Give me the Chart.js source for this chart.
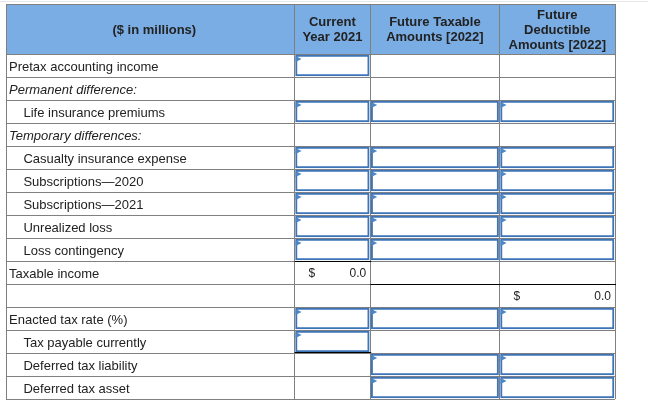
<!DOCTYPE html>
<html>
<head>
<meta charset="utf-8">
<script src="https://cdn.jsdelivr.net/npm/chart.js@4.4.1/dist/chart.umd.min.js"></script>
<style>
	html, body { margin: 0; padding: 0; background: #fff; }
	#wrap { width: 648px; height: 404px; }
</style>
</head>
<body>
<div id="wrap"><canvas id="worksheet"></canvas></div>
<script>
// Rows of the worksheet
var ROW_LABELS = [
	'Pretax accounting income',
	'Permanent difference:',
	'Life insurance premiums',
	'Temporary differences:',
	'Casualty insurance expense',
	'Subscriptions\u20142020',
	'Subscriptions\u20142021',
	'Unrealized loss',
	'Loss contingency',
	'Taxable income',
	'',
	'Enacted tax rate (%)',
	'Tax payable currently',
	'Deferred tax liability',
	'Deferred tax asset'
];
var ROW_INDENT = [0, 0, 1, 0, 1, 1, 1, 1, 1, 0, 0, 0, 1, 1, 1];
var ROW_ITALIC = [0, 1, 0, 1, 0, 0, 0, 0, 0, 0, 0, 0, 0, 0, 0];

// Column headers (first one is the label column)
var COL_HEADERS = [
	['($ in millions)'],
	['Current', 'Year 2021'],
	['Future Taxable', 'Amounts [2022]'],
	['Future', 'Deductible', 'Amounts [2022]']
];

// 1 = answer box in that cell
var INPUT_CURRENT = [1, 0, 1, 0, 1, 1, 1, 1, 1, 0, 0, 1, 1, 0, 0];
var INPUT_TAXABLE = [0, 0, 1, 0, 1, 1, 1, 1, 1, 0, 0, 1, 0, 1, 1];
var INPUT_DEDUCT  = [0, 0, 1, 0, 1, 1, 1, 1, 1, 0, 0, 1, 0, 1, 1];

// Computed totals shown in the sheet
var TOTAL_ROWS = [9, 10];
var TOTAL_COLS = [1, 3];
var TOTAL_VALUES = [0.0, 0.0];

// --- layout / style (not data) ---
var COL_EDGES = [0, 290, 366, 496, 612];   // column boundaries on the x scale
var GRID = '#808080';
var BOX_BLUE = '#3d74b8';
var FLAG_BLUE = '#4a86c8';
var TEXT = '#222';
var FONT = '"Liberation Sans", Arial, sans-serif';

function boxData(flags, col) {
	return flags.map(function (f) {
		return f ? [COL_EDGES[col] + 1, COL_EDGES[col + 1] - 1] : null;
	});
}

function boxDataset(label, flags, col) {
	return {
		label: label,
		data: boxData(flags, col),
		backgroundColor: '#fff',
		borderColor: BOX_BLUE,
		borderWidth: 2,
		borderSkipped: false,
		barThickness: 21,
		grouped: false
	};
}

// Header band, header text, flags, totals and underlines
var sheetPlugin = {
	id: 'sheet',
	beforeDraw: function (chart) {
		var ctx = chart.ctx, x = chart.scales.x;
		ctx.save();
		// faint page line
		ctx.strokeStyle = '#e8e8e8';
		ctx.lineWidth = 1;
		ctx.beginPath(); ctx.moveTo(0, 1.5); ctx.lineTo(chart.width, 1.5); ctx.stroke();
		// header background
		ctx.fillStyle = '#7aade4';
		ctx.fillRect(x.left, x.top, x.right - x.left, x.bottom - x.top);
		ctx.strokeStyle = GRID;
		ctx.beginPath(); ctx.moveTo(x.left, x.top + 0.5); ctx.lineTo(x.right + 1, x.top + 0.5); ctx.stroke();
		ctx.restore();
	},
	afterDatasetsDraw: function (chart) {
		var ctx = chart.ctx, x = chart.scales.x, y = chart.scales.y;
		ctx.save();
		// little blue flags in each answer box
		ctx.fillStyle = FLAG_BLUE;
		chart.data.datasets.forEach(function (ds, di) {
			chart.getDatasetMeta(di).data.forEach(function (el, i) {
				if (ds.data[i] === null) return;
				var p = el.getProps(['x', 'y', 'base', 'height'], true);
				var l = Math.min(p.x, p.base), t = p.y - p.height / 2;
				ctx.beginPath();
				ctx.moveTo(l, t + 1);
				ctx.lineTo(l, t + 7);
				ctx.lineTo(l + 6, t + 4);
				ctx.closePath();
				ctx.fill();
			});
		});

		// header text
		ctx.fillStyle = TEXT;
		ctx.font = 'bold 13px ' + FONT;
		ctx.textAlign = 'center';
		ctx.textBaseline = 'middle';
		var midY = (x.top + x.bottom) / 2 + 1;
		COL_HEADERS.forEach(function (lines, c) {
			var cx = (x.getPixelForValue(COL_EDGES[c]) + x.getPixelForValue(COL_EDGES[c + 1])) / 2;
			if (c === 0) cx += 4;
			var y0 = midY - (lines.length - 1) * 15 / 2;
			lines.forEach(function (s, k) {
				ctx.fillText(s, cx, y0 + k * 15);
			});
		});

		// totals ($ ... value)
		ctx.font = '12px ' + FONT;
		TOTAL_ROWS.forEach(function (r, k) {
			var c = TOTAL_COLS[k];
			var cy = y.getPixelForValue(r) + 1;
			ctx.textAlign = 'left';
			ctx.fillText('$', x.getPixelForValue(COL_EDGES[c]) + 14, cy);
			ctx.textAlign = 'right';
			ctx.fillText(TOTAL_VALUES[k].toFixed(1), x.getPixelForValue(COL_EDGES[c + 1]) - 4, cy);
		});

		// underlines for totals
		var rowH = y.getPixelForValue(1) - y.getPixelForValue(0);
		function hline(c0, c1, yy) {
			ctx.beginPath();
			ctx.moveTo(x.getPixelForValue(COL_EDGES[c0]), yy);
			ctx.lineTo(x.getPixelForValue(COL_EDGES[c1]) + 1, yy);
			ctx.stroke();
		}
		ctx.strokeStyle = '#000';
		ctx.lineWidth = 1;
		var top9 = Math.round(y.getPixelForValue(9) - rowH / 2) + 0.5;
		var bot9 = Math.round(y.getPixelForValue(9) + rowH / 2) + 0.5;
		var bot12 = Math.round(y.getPixelForValue(12) + rowH / 2) - 0.5;
		hline(1, 2, top9);
		hline(2, 4, bot9);
		hline(1, 2, bot12);
		ctx.restore();
	}
};

var chart = new Chart(document.getElementById('worksheet'), {
	type: 'bar',
	data: {
		labels: ROW_LABELS,
		datasets: [
			boxDataset('Current Year 2021', INPUT_CURRENT, 1),
			boxDataset('Future Taxable Amounts [2022]', INPUT_TAXABLE, 2),
			boxDataset('Future Deductible Amounts [2022]', INPUT_DEDUCT, 3)
		]
	},
	options: {
		indexAxis: 'y',
		responsive: true,
		maintainAspectRatio: false,
		devicePixelRatio: 1,
		animation: false,
		layout: { padding: { left: 0, top: 4, right: 33, bottom: 5 } },
		plugins: {
			legend: { display: false },
			tooltip: { enabled: false }
		},
		scales: {
			x: {
				type: 'linear',
				position: 'top',
				min: COL_EDGES[0],
				max: COL_EDGES[COL_EDGES.length - 1],
				afterBuildTicks: function (axis) {
					axis.ticks = COL_EDGES.map(function (v) { return { value: v }; });
				},
				ticks: { display: false },
				grid: { color: GRID, tickColor: GRID, tickLength: 50, drawTicks: true, lineWidth: 1 },
				border: { display: true, color: GRID }
			},
			y: {
				type: 'category',
				position: 'left',
				offset: true,
				grid: { offset: true, color: GRID, drawTicks: false },
				border: { display: true, color: GRID },
				ticks: {
					mirror: true,
					padding: 3,
					labelOffset: 1.5,
					color: TEXT,
					autoSkip: false,
					callback: function (v, i) {
						return (ROW_INDENT[i] ? '    ' : '') + ROW_LABELS[i];
					},
					font: function (c) {
						return {
							family: FONT,
							size: 13,
							style: ROW_ITALIC[c.index] ? 'italic' : 'normal',
							lineHeight: 0.3
						};
					}
				}
			}
		}
	},
	plugins: [sheetPlugin]
});
</script>
</body>
</html>
